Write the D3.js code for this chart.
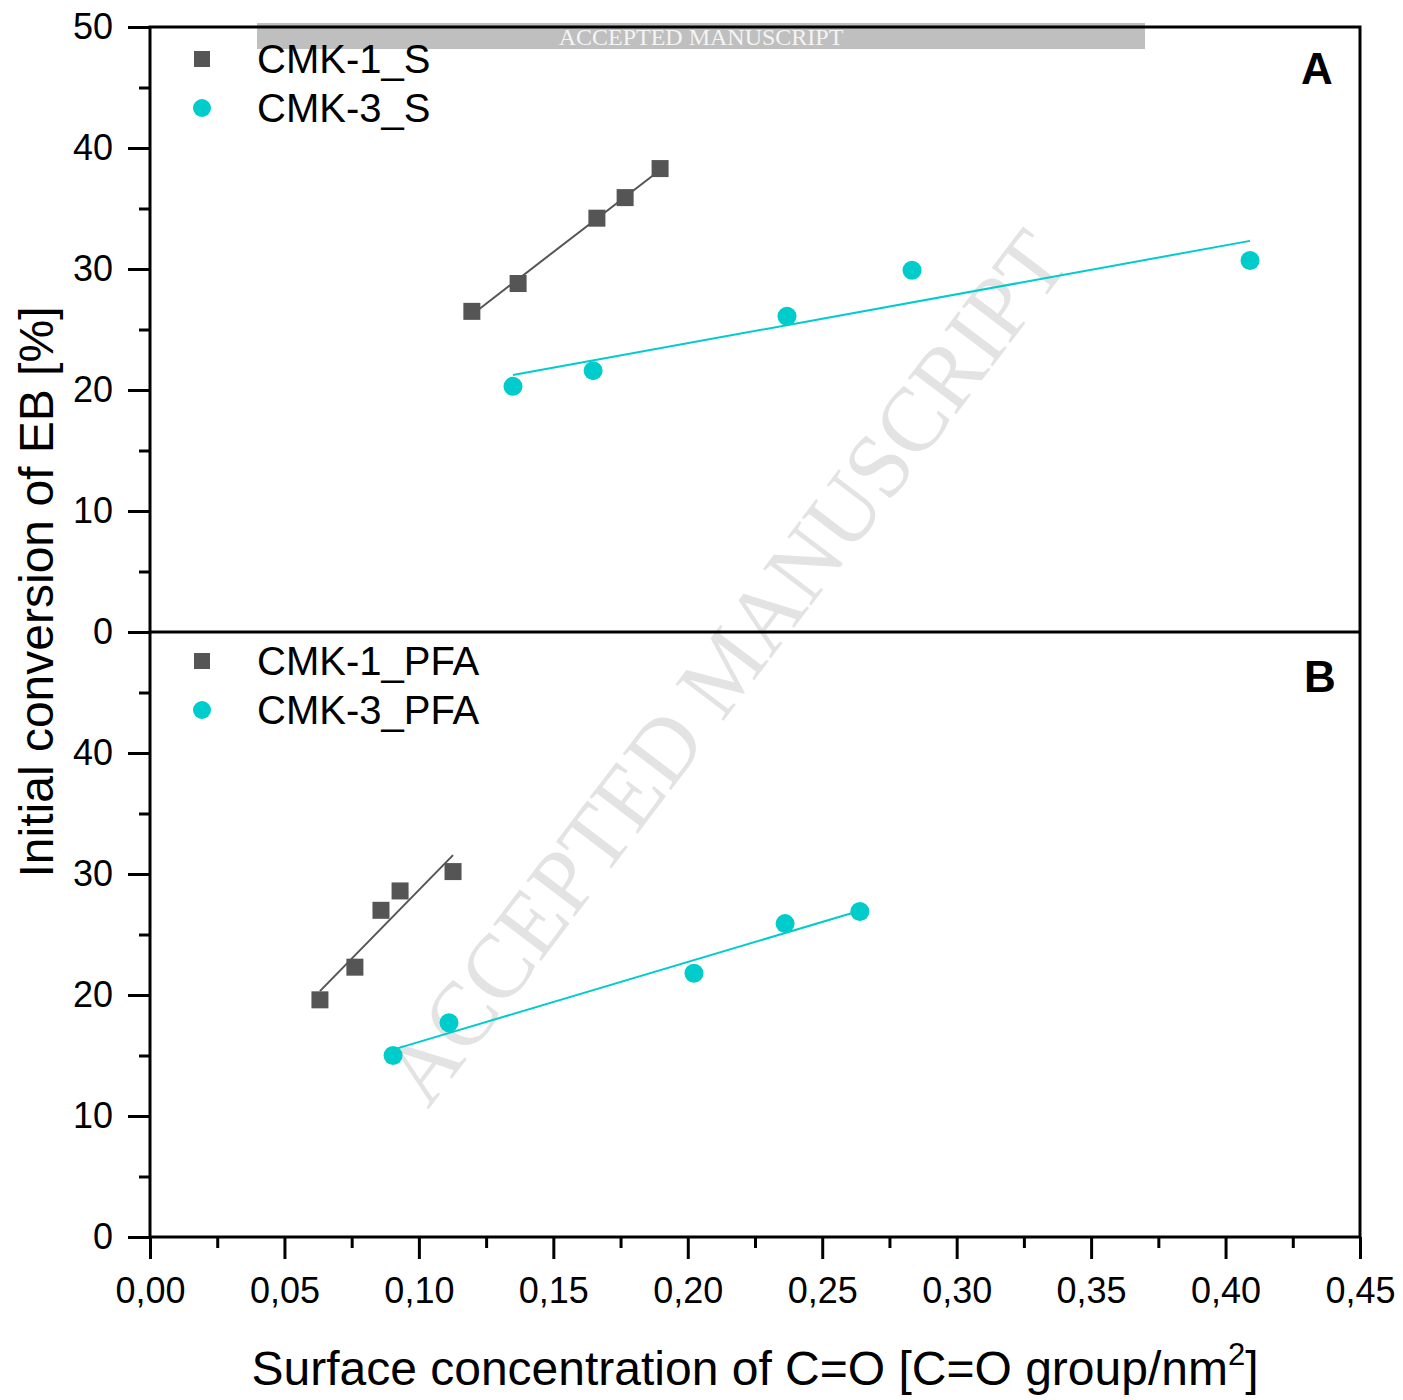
<!DOCTYPE html>
<html>
<head>
<meta charset="utf-8">
<script src="https://cdn.jsdelivr.net/npm/d3@7"></script>
<style>
  body { margin: 0; background: #fff; }
  svg { font-family: "Liberation Sans", Arial, sans-serif; }
</style>
</head>
<body>
<div id="chart"></div>
<script>
// data
const cmk1S_x = [0.1197, 0.1369, 0.1662, 0.1767, 0.1897];
const cmk1S_y = [26.5, 28.8, 34.2, 35.9, 38.3];
const cmk3S_x = [0.135, 0.1648, 0.2369, 0.2834, 0.4091];
const cmk3S_y = [20.3, 21.6, 26.1, 29.9, 30.7];
const cmk1P_x = [0.0632, 0.0762, 0.0859, 0.0930, 0.1127];
const cmk1P_y = [19.6, 22.3, 27.0, 28.6, 30.2];
const cmk3P_x = [0.0904, 0.1112, 0.2023, 0.2362, 0.2640];
const cmk3P_y = [15.0, 17.7, 21.8, 25.9, 26.9];

const xTicks = [0, 0.05, 0.10, 0.15, 0.20, 0.25, 0.30, 0.35, 0.40, 0.45];
const yTicksTop = [0, 10, 20, 30, 40, 50];
const yTicksBottom = [0, 10, 20, 30, 40];

const grey = "#555555";
const cyan = "#00cccc";

const W = 1403, H = 1400;
const left = 150, right = 1360;
const topA = 27, midY = 632, botB = 1237;

const svg = d3.select("#chart").append("svg")
  .attr("width", W).attr("height", H);

const x = d3.scaleLinear().domain([0, 0.45]).range([left, right]);
const yA = d3.scaleLinear().domain([0, 50]).range([midY, topA]);
const yB = d3.scaleLinear().domain([0, 50]).range([botB, midY]);

// watermark (behind data)
svg.append("text")
  .attr("transform", "translate(428,1110) rotate(-52.8)")
  .attr("font-family", "'Liberation Serif', 'Times New Roman', serif")
  .attr("font-size", 92)
  .attr("fill", "#e3e3e3")
  .attr("textLength", 1065)
  .attr("lengthAdjust", "spacingAndGlyphs")
  .text("ACCEPTED MANUSCRIPT");

// top banner
svg.append("rect").attr("x", 257).attr("y", 23).attr("width", 888).attr("height", 26).attr("fill", "#bfbfbf");
svg.append("text").attr("x", 701).attr("y", 45).attr("text-anchor", "middle")
  .attr("font-family", "'Liberation Serif', 'Times New Roman', serif")
  .attr("font-size", 24).attr("fill", "#f4f4f4").text("ACCEPTED MANUSCRIPT");

// least squares fit line
function fit(xs, ys) {
  const n = xs.length;
  const mx = d3.mean(xs), my = d3.mean(ys);
  let sxy = 0, sxx = 0;
  for (let i = 0; i < n; i++) {
    sxy += (xs[i] - mx) * (ys[i] - my);
    sxx += (xs[i] - mx) * (xs[i] - mx);
  }
  const b = sxy / sxx, a = my - b * mx;
  const x0 = d3.min(xs), x1 = d3.max(xs);
  return [[x0, a + b * x0], [x1, a + b * x1]];
}

function drawSeries(xs, ys, y, color, shape) {
  const pts = xs.map((v, i) => [v, ys[i]]);
  const f = fit(xs, ys);
  svg.append("line")
    .attr("x1", x(f[0][0])).attr("y1", y(f[0][1]))
    .attr("x2", x(f[1][0])).attr("y2", y(f[1][1]))
    .attr("stroke", color).attr("stroke-width", 2);
  if (shape === "square") {
    svg.selectAll(null).data(pts).enter().append("rect")
      .attr("x", d => x(d[0]) - 8.5).attr("y", d => y(d[1]) - 8.5)
      .attr("width", 17).attr("height", 17)
      .attr("fill", color);
  } else {
    svg.selectAll(null).data(pts).enter().append("circle")
      .attr("cx", d => x(d[0])).attr("cy", d => y(d[1]))
      .attr("r", 9.5).attr("fill", color);
  }
}

drawSeries(cmk1S_x, cmk1S_y, yA, grey, "square");
drawSeries(cmk3S_x, cmk3S_y, yA, cyan, "circle");
drawSeries(cmk1P_x, cmk1P_y, yB, grey, "square");
drawSeries(cmk3P_x, cmk3P_y, yB, cyan, "circle");

// frame
svg.append("rect")
  .attr("x", left).attr("y", topA)
  .attr("width", right - left).attr("height", botB - topA)
  .attr("fill", "none").attr("stroke", "#000").attr("stroke-width", 3);
svg.append("line")
  .attr("x1", left).attr("x2", right).attr("y1", midY).attr("y2", midY)
  .attr("stroke", "#000").attr("stroke-width", 3);

// y axes
function yAxis(y, ticks) {
  const g = svg.append("g").attr("transform", `translate(${left},0)`)
    .call(d3.axisLeft(y).tickValues(ticks).tickSize(22).tickPadding(15)
      .tickFormat(d3.format("d")));
  g.select(".domain").remove();
  g.selectAll(".tick line").attr("stroke-width", 3);
  g.selectAll(".tick text").attr("font-size", 36).attr("fill", "#000")
    .attr("font-family", "'Liberation Sans', Arial, sans-serif");
  const minor = svg.append("g").attr("transform", `translate(${left},0)`)
    .call(d3.axisLeft(y).tickValues([5, 15, 25, 35, 45]).tickSize(11).tickFormat(""));
  minor.select(".domain").remove();
  minor.selectAll(".tick line").attr("stroke-width", 3);
}
yAxis(yA, yTicksTop);
yAxis(yB, yTicksBottom);

// x axis
const gx = svg.append("g").attr("transform", `translate(0,${botB})`)
  .call(d3.axisBottom(x).tickValues(xTicks).tickSize(22).tickPadding(18)
    .tickFormat(d => d3.format(".2f")(d).replace(".", ",")));
gx.select(".domain").remove();
gx.selectAll(".tick line").attr("stroke-width", 3);
gx.selectAll(".tick text").attr("font-size", 36).attr("fill", "#000")
  .attr("font-family", "'Liberation Sans', Arial, sans-serif");
const gxm = svg.append("g").attr("transform", `translate(0,${botB})`)
  .call(d3.axisBottom(x).tickValues(d3.range(0.025, 0.45, 0.05)).tickSize(11).tickFormat(""));
gxm.select(".domain").remove();
gxm.selectAll(".tick line").attr("stroke-width", 3);

// legends
function legend(y0, names) {
  svg.append("rect").attr("x", 194).attr("y", y0 - 8).attr("width", 16).attr("height", 16).attr("fill", grey);
  svg.append("circle").attr("cx", 202).attr("cy", y0 + 49).attr("r", 9).attr("fill", cyan);
  svg.append("text").attr("x", 257).attr("y", y0 + 14).attr("font-size", 40).text(names[0]);
  svg.append("text").attr("x", 257).attr("y", y0 + 63).attr("font-size", 40).text(names[1]);
}
legend(59, ["CMK-1_S", "CMK-3_S"]);
legend(661, ["CMK-1_PFA", "CMK-3_PFA"]);

svg.append("text").attr("x", 1317).attr("y", 84).attr("text-anchor", "middle")
  .attr("font-size", 44).attr("font-weight", "bold").text("A");
svg.append("text").attr("x", 1320).attr("y", 692).attr("text-anchor", "middle")
  .attr("font-size", 44).attr("font-weight", "bold").text("B");

// axis titles
svg.append("text")
  .attr("transform", "translate(53,592) rotate(-90)")
  .attr("text-anchor", "middle").attr("font-size", 48)
  .text("Initial conversion of EB [%]");

const xt = svg.append("text").attr("x", 755).attr("y", 1385)
  .attr("text-anchor", "middle").attr("font-size", 48);
xt.append("tspan").text("Surface concentration of C=O [C=O group/nm");
xt.append("tspan").attr("font-size", 31).attr("dy", -20).text("2");
xt.append("tspan").attr("dy", 20).text("]");
</script>
</body>
</html>
